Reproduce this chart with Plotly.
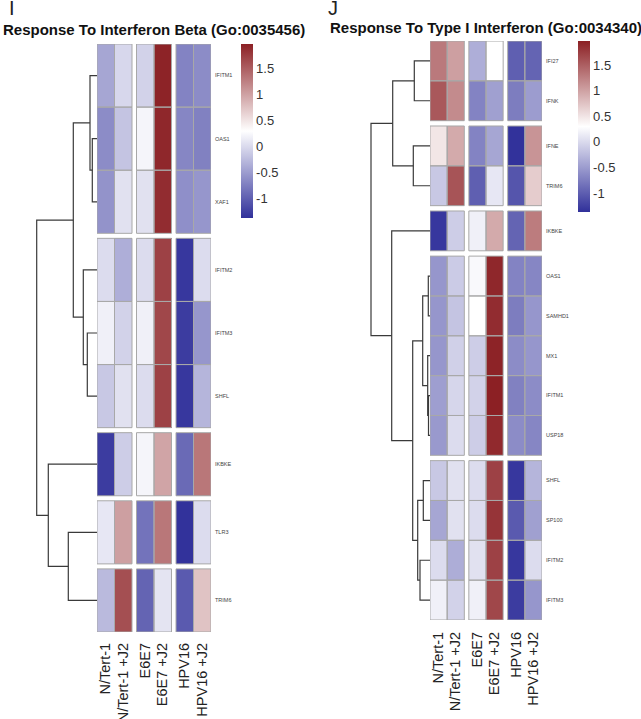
import numpy as np
import plotly.graph_objects as go

W, H = 641, 719

samples = ["N/Tert-1", "N/Tert-1 +J2", "E6E7", "E6E7 +J2", "HPV16", "HPV16 +J2"]
col_groups = [2, 2, 2]

# GO:0035456 panel
genes_beta = ["IFITM1", "OAS1", "XAF1", "IFITM2", "IFITM3", "SHFL", "IKBKE", "TLR3", "TRIM6"]
row_groups_beta = [3, 3, 1, 1, 1]
z_beta = [
    [-0.42, -0.02, -0.06, 1.95, -0.70, -0.63],
    [-0.63, -0.18, 0.22, 1.92, -0.68, -0.72],
    [-0.57, 0.06, 0.06, 1.88, -0.60, -0.55],
    [0.02, -0.35, 0.02, 1.72, -1.31, 0.02],
    [0.18, -0.06, 0.18, 1.68, -1.27, -0.55],
    [-0.14, 0.06, 0.02, 1.72, -1.31, -0.30],
    [-1.27, -0.10, 0.22, 0.98, -0.90, 1.32],
    [0.11, 1.02, -0.83, 1.32, -1.35, 0.02],
    [-0.26, 1.62, -0.95, 0.08, -1.03, 0.75],
]
# (left node, right node, height); leaves are 0..n-1
merges_beta = [(1, 2, 4.7), (0, 9, 7.0), (4, 5, 9.7), (3, 11, 13.7), (10, 12, 23.7),
               (7, 8, 28.7), (6, 14, 48.7), (13, 15, 60.3)]

# GO:0034340 panel
genes_type1 = ["IFI27", "IFNK", "IFNE", "TRIM6", "IKBKE", "OAS1", "SAMHD1", "MX1",
               "IFITM1", "USP18", "SHFL", "SP100", "IFITM2", "IFITM3"]
row_groups_type1 = [2, 2, 1, 5, 4]
z_type1 = [
    [1.30, 1.02, -0.35, 0.30, -0.99, -0.95],
    [1.55, 1.17, -0.70, -0.47, -0.75, -0.50],
    [0.49, 0.94, -0.70, -0.42, -1.35, 1.10],
    [-0.14, 1.58, -0.99, 0.11, -1.07, 0.68],
    [-1.31, -0.10, 0.18, 0.94, -0.95, 1.28],
    [-0.55, -0.12, 0.25, 1.92, -0.70, -0.68],
    [-0.55, -0.18, 0.30, 1.88, -0.75, -0.55],
    [-0.55, -0.08, -0.10, 1.95, -0.63, -0.55],
    [-0.48, -0.03, -0.06, 1.97, -0.72, -0.63],
    [-0.52, 0.02, -0.10, 1.90, -0.63, -0.68],
    [-0.14, 0.06, 0.02, 1.72, -1.31, -0.30],
    [-0.42, 0.06, 0.02, 1.82, -1.03, -0.47],
    [0.02, -0.36, 0.06, 1.72, -1.31, 0.02],
    [0.18, -0.06, 0.18, 1.68, -1.27, -0.55],
]
merges_type1 = [(8, 9, 1.5), (5, 6, 1.7), (7, 14, 2.3), (15, 16, 7.3), (10, 11, 6.7),
                (12, 13, 10.0), (18, 19, 12.3), (0, 1, 15.7), (2, 3, 16.7), (17, 20, 17.3),
                (21, 22, 37.3), (4, 23, 38.3), (24, 25, 59.0)]

zmin, zmax = -1.37, 1.97
cbar_ticks = [-1, -0.5, 0, 0.5, 1, 1.5]
cbar_labels = ["-1", "-0.5", "0", "0.5", "1", "1.5"]

cscale = [[0, "#30309a"], [0.5, "#ffffff"], [1, "#8c2024"]]
FONT = "Arial, Liberation Sans, Helvetica, sans-serif"


def px_x(p):
    return p / W


def px_y(p):
    return 1 - p / H


def layout_bins(groups, total, gap):
    cell = (total - gap * (len(groups) - 1)) / sum(groups)
    edges, centers, slots = [0.0], [], []
    pos = 0.0
    for gi, n in enumerate(groups):
        for _ in range(n):
            slots.append(len(edges) - 1)
            centers.append(pos + cell / 2)
            pos += cell
            edges.append(pos)
        if gi < len(groups) - 1:
            pos += gap
            edges.append(pos)
    return edges, centers, slots


def dendro_lines(merges, leaf_y):
    ys = list(leaf_y)
    hs = [0.0] * len(leaf_y)
    lx, ly = [], []
    for a, b, h in merges:
        lx += [hs[a], h, h, hs[b], None]
        ly += [ys[a], ys[a], ys[b], ys[b], None]
        ys.append((ys[a] + ys[b]) / 2)
        hs.append(h)
    return lx, ly


panels = [
    dict(title="Response To Interferon Beta (Go:0035456)", genes=genes_beta,
         groups=row_groups_beta, z=z_beta, merges=merges_beta,
         hm=(97, 211, 44, 632), row_gap=5, dendro_x0=0, title_xy=(154, 30),
         cbar=(241, 44, 174), letter="I", letter_x=12, xlab_pad=7),
    dict(title="Response To Type I Interferon (Go:0034340)", genes=genes_type1,
         groups=row_groups_type1, z=z_type1, merges=merges_type1,
         hm=(430, 542, 41, 620), row_gap=5.3, dendro_x0=330, title_xy=(486, 28),
         cbar=(578, 41, 171), letter="J", letter_x=333, xlab_pad=8),
]

fig = go.Figure()
layout_axes = {}
annotations = []

for k, p in enumerate(panels):
    nd, nh = 2 * k + 1, 2 * k + 2
    dx = "x" if nd == 1 else f"x{nd}"
    dy = "y" if nd == 1 else f"y{nd}"
    hx, hy = f"x{nh}", f"y{nh}"
    x0, x1, y0, y1 = p["hm"]
    wid, hei = x1 - x0, y1 - y0

    cedges, ccent, cslot = layout_bins(col_groups, wid, 4.5)
    redges, rcent, rslot = layout_bins(p["groups"], hei, p["row_gap"])
    z = np.array(p["z"], dtype=float)
    full = np.full((len(redges) - 1, len(cedges) - 1), np.nan)
    full[np.ix_(rslot, cslot)] = z

    cbx, cby, cblen = p["cbar"]
    fig.add_trace(go.Heatmap(
        z=full, x=cedges, y=redges, xaxis=hx, yaxis=hy,
        zmin=zmin, zmax=zmax, colorscale=cscale, hoverongaps=False,
        colorbar=dict(x=px_x(cbx), xanchor="left", xpad=0,
                      y=px_y(cby), yanchor="top", ypad=0,
                      len=cblen, lenmode="pixels", thickness=12,
                      outlinewidth=0, ticks="",
                      tickvals=cbar_ticks, ticktext=cbar_labels,
                      tickfont=dict(size=13, color="#333", family=FONT)),
    ))

    lx, ly = dendro_lines(p["merges"], rcent)
    fig.add_trace(go.Scatter(x=lx, y=ly, mode="lines", xaxis=dx, yaxis=dy,
                             line=dict(color="#3a3a3a", width=1.2),
                             hoverinfo="skip", showlegend=False))

    for i in rslot:
        for j in cslot:
            fig.add_shape(type="rect", xref=hx, yref=hy,
                          x0=cedges[j], x1=cedges[j + 1], y0=redges[i], y1=redges[i + 1],
                          line=dict(color="#a8a8a8", width=1),
                          fillcolor="rgba(0,0,0,0)")

    dom_y = [px_y(y1), px_y(y0)]
    kd = "xaxis" if nd == 1 else f"xaxis{nd}"
    kdy = "yaxis" if nd == 1 else f"yaxis{nd}"
    layout_axes[kd] = dict(domain=[px_x(p["dendro_x0"]), px_x(x0)],
                           range=[x0 - p["dendro_x0"], 0], visible=False, anchor=dy)
    layout_axes[kdy] = dict(domain=dom_y, range=[hei, 0], visible=False, anchor=dx)
    layout_axes[f"xaxis{nh}"] = dict(
        domain=[px_x(x0), px_x(x1)], range=[0, wid], anchor=hy, side="bottom",
        tickvals=ccent, ticktext=samples, tickangle=-90, ticks="", ticklen=0,
        ticklabelstandoff=p["xlab_pad"],
        showgrid=False, zeroline=False, showline=False, automargin=False,
        tickfont=dict(size=14.5, color="#222", family=FONT))
    layout_axes[f"yaxis{nh}"] = dict(
        domain=dom_y, range=[hei, 0], anchor=hx, side="right",
        tickvals=rcent, ticktext=p["genes"], ticks="", ticklen=0,
        ticklabelstandoff=3,
        showgrid=False, zeroline=False, showline=False, automargin=False,
        tickfont=dict(size=5.5, color="#444", family=FONT))

    tx, ty = p["title_xy"]
    annotations.append(dict(text="<b>" + p["title"] + "</b>", x=px_x(tx), y=px_y(ty),
                            xref="paper", yref="paper", xanchor="center", yanchor="middle",
                            showarrow=False, font=dict(size=15, color="#111", family=FONT)))
    annotations.append(dict(text=p["letter"], x=px_x(p["letter_x"]), y=1,
                            xref="paper", yref="paper", xanchor="center", yanchor="middle",
                            yshift=-8, showarrow=False,
                            font=dict(size=20, color="#222", family=FONT)))

fig.update_layout(
    width=W, height=H, margin=dict(l=0, r=0, t=0, b=0),
    paper_bgcolor="white", plot_bgcolor="rgba(0,0,0,0)",
    showlegend=False, annotations=annotations, **layout_axes,
)

fig.write_html("out.html", config={"displayModeBar": False},
               post_script="document.body.style.margin='0';")
